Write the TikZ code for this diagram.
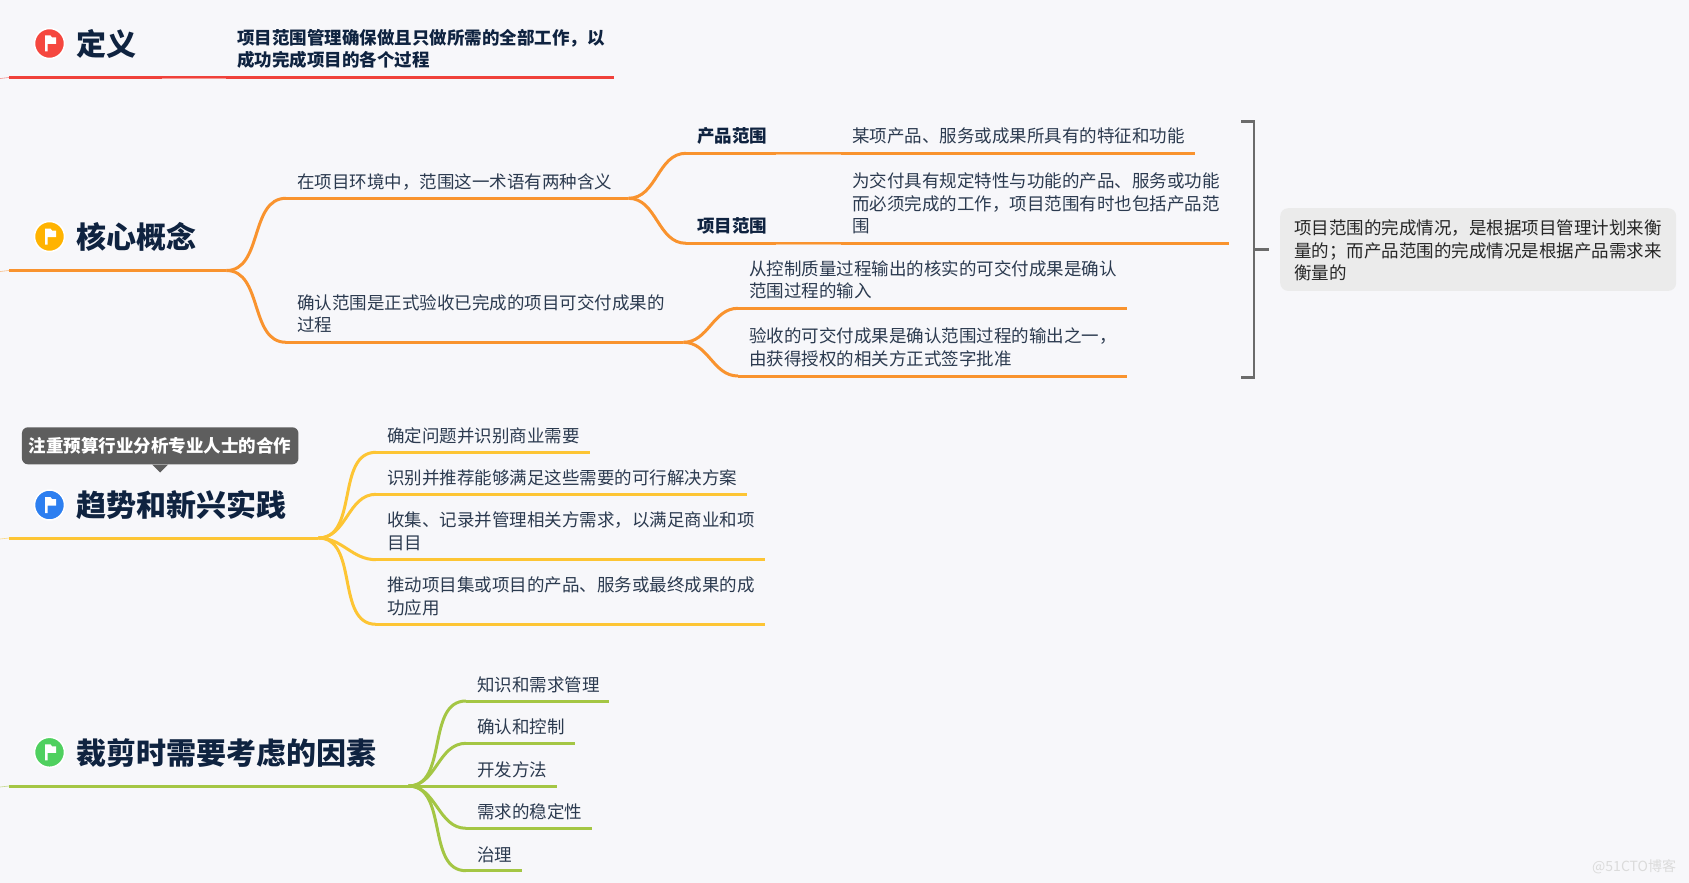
\documentclass[tikz,border=0pt]{standalone}
\usepackage{fontspec}
\setmainfont{Noto Sans CJK SC}
\definecolor{paper}{HTML}{F7F7FA}
\definecolor{ink}{HTML}{0F2340}
\definecolor{bodyink}{HTML}{2B3A4F}
\definecolor{redline}{HTML}{F0413A}
\definecolor{orangeline}{HTML}{F9932E}
\definecolor{yellowline}{HTML}{FDC534}
\definecolor{greenline}{HTML}{A4C644}
\definecolor{redflag}{HTML}{F5473F}
\definecolor{yellowflag}{HTML}{FFB300}
\definecolor{blueflag}{HTML}{2D7FF0}
\definecolor{greenflag}{HTML}{4FD05F}
\tikzset{
  topic/.style={anchor=south west, inner sep=0pt, align=left, text depth=21.5pt, text=ink,
    font=\fontsize{30}{34}\selectfont\bfseries, execute at begin node={\hspace*{67pt}}},
  leaf/.style={anchor=south west, inner xsep=11pt, inner ysep=0pt, align=left, text depth=10pt,
    text=bodyink, font=\fontsize{17.5}{22.5}\selectfont},
  twolines/.style={text depth=33pt},
  threelines/.style={text depth=55.5pt},
  boldleaf/.style={leaf, text=ink, font=\fontsize{17.5}{22.5}\selectfont\bfseries},
  icon/.style={circle, fill=#1, draw=white, line width=1.5pt, minimum size=30pt, inner sep=0pt},
  branch/.style={line width=3pt, color=#1},
  seam/.style={line width=1.2pt, color=white, opacity=.45},
  tail/.style={line width=.6pt, color=#1, opacity=.6},
  bracket/.style={line width=2.5pt, color=black!58},
  flag/.pic={\fill[white] (-4.5,-8) -- (1,-8) -- (2.5,-6) -- (6.5,-6) -- (6.5,.5) -- (-2,.5) -- (-2,8) -- (-4.5,8) -- cycle;}
}
\begin{document}
\begin{tikzpicture}[x=1pt, y=-1pt]
  \fill[paper] (0,0) rectangle (1689,883);
  \useasboundingbox (0,0) rectangle (1689,883);
  %nodes
  \node[icon=redflag] at (49.5,43.5) (deficon) {};
  \node[topic, text width=217pt] at (9,77.5) (defroot) {定义};
  \node[boldleaf, twolines, text width=366pt] at (226,77.5) (defdesc) {项目范围管理确保做且只做所需的全部工作，以\\成功完成项目的各个过程};

  \node[icon=yellowflag] at (49.5,236.5) (coreicon) {};
  \node[topic, text width=217pt] at (9,270.5) (coreroot) {核心概念};
  \node[leaf, text width=320pt] at (286,198.3) (meaning) {在项目环境中，范围这一术语有两种含义};
  \node[leaf, twolines, text width=375pt] at (286,342.3) (confirm) {确认范围是正式验收已完成的项目可交付成果的\\过程};
  \node[boldleaf, text depth=11pt, text width=133pt] at (686,153.3) (product) {产品范围};
  \node[leaf, text depth=11pt, text width=331.5pt] at (841,153.3) (productdesc) {某项产品、服务或成果所具有的特征和功能};
  \node[boldleaf, text depth=11pt, text width=133pt] at (686,243.3) (project) {项目范围};
  \node[leaf, threelines, text width=366pt] at (841,243.3) (projectdesc) {为交付具有规定特性与功能的产品、服务或功能\\而必须完成的工作，项目范围有时也包括产品范\\围};
  \node[leaf, twolines, text width=367pt] at (738,308.3) (input) {从控制质量过程输出的核实的可交付成果是确认\\范围过程的输入};
  \node[leaf, twolines, text width=367pt] at (738,376) (output) {验收的可交付成果是确认范围过程的输出之一，\\由获得授权的相关方正式签字批准};
  \node[anchor=north west, fill=black!8, rounded corners=8pt, inner xsep=14pt, inner ysep=0pt, text height=26.6pt, text depth=56.1pt,
    text width=368pt, align=left, text=black!85, font=\fontsize{17.5}{22.5}\selectfont] at (1280,208) (note)
    {项目范围的完成情况，是根据项目管理计划来衡\\量的；而产品范围的完成情况是根据产品需求来\\衡量的};
  \coordinate (bracketmid) at (1254,249.7);

  \node[fill=black!63, rounded corners=6pt, minimum width=276.5pt, inner sep=0pt, text height=25.3pt, text depth=11.7pt, text=white,
    font=\fontsize{17.5}{22.5}\selectfont\bfseries] at (160.2,445.8) (tag) {注重预算行业分析专业人士的合作};
  \node[icon=blueflag] at (49.5,505) (trendicon) {};
  \node[topic, text width=309pt] at (9,538) (trendroot) {趋势和新兴实践};
  \node[leaf, text width=192pt] at (376,452.3) (need) {确定问题并识别商业需要};
  \node[leaf, text width=349pt] at (376,494.3) (solution) {识别并推荐能够满足这些需要的可行解决方案};
  \node[leaf, twolines, text width=367pt] at (376,559.7) (collect) {收集、记录并管理相关方需求，以满足商业和项\\目目};
  \node[leaf, text depth=32.5pt, text width=367pt] at (376,624.3) (apply) {推动项目集或项目的产品、服务或最终成果的成\\功应用};

  \node[icon=greenflag] at (49.5,752.3) (tailoricon) {};
  \node[topic, text width=399pt] at (9,786) (tailorroot) {裁剪时需要考虑的因素};
  \node[leaf, text depth=9.5pt, text width=121pt] at (466,701) (knowledge) {知识和需求管理};
  \node[leaf, text width=87pt] at (466,743.3) (control) {确认和控制};
  \node[leaf, text depth=9.5pt, text width=69pt] at (466,786) (method) {开发方法};
  \node[leaf, text depth=9.5pt, text width=104pt] at (466,828.3) (stability) {需求的稳定性};
  \node[leaf, text depth=9.5pt, text width=34pt] at (466,870.7) (govern) {治理};

  \node[anchor=west, inner sep=0pt, text=black!14, font=\fontsize{14}{16}\selectfont] at (1592,866.7) (mark) {@51CTO博客};

  \pic at (deficon) {flag};
  \pic at (coreicon) {flag};
  \pic at (trendicon) {flag};
  \pic at (tailoricon) {flag};
  \fill[black!63] ([xshift=-8pt]tag.south) -- ([xshift=8pt]tag.south) -- ([yshift=-8pt]tag.south) -- cycle;

  %connectors
  \draw[tail=redline] ([shift={(-9,1)}]defroot.south west) -- (defroot.south west);
  \draw[tail=orangeline] ([shift={(-9,1)}]coreroot.south west) -- (coreroot.south west);
  \draw[tail=yellowline] ([shift={(-9,1)}]trendroot.south west) -- (trendroot.south west);
  \draw[tail=greenline] ([shift={(-9,1)}]tailorroot.south west) -- (tailorroot.south west);

  \path[branch=redline]
    (defroot.south west) edge (defdesc.south east);
  \path[branch=orangeline]
    (coreroot.south west) edge (coreroot.south east)
    (coreroot.south east) edge[out=0, in=180] (meaning.south west)
    (coreroot.south east) edge[out=0, in=180] (confirm.south west)
    (meaning.south west) edge (meaning.south east)
    (confirm.south west) edge (confirm.south east)
    (meaning.south east) edge[out=0, in=180] (product.south west)
    (meaning.south east) edge[out=0, in=180] (project.south west)
    (product.south west) edge (productdesc.south east)
    (project.south west) edge (projectdesc.south east)
    (confirm.south east) edge[out=0, in=180] (input.south west)
    (confirm.south east) edge[out=0, in=180] (output.south west)
    (input.south west) edge (input.south east)
    (output.south west) edge (output.south east);
  \path[branch=yellowline]
    (trendroot.south west) edge (trendroot.south east)
    (trendroot.south east) edge[out=0, in=180] (need.south west)
    (trendroot.south east) edge[out=0, in=180] (solution.south west)
    (trendroot.south east) edge[out=0, in=180] (collect.south west)
    (trendroot.south east) edge[out=0, in=180] (apply.south west)
    (need.south west) edge (need.south east)
    (solution.south west) edge (solution.south east)
    (collect.south west) edge (collect.south east)
    (apply.south west) edge (apply.south east);
  \path[branch=greenline]
    (tailorroot.south west) edge (tailorroot.south east)
    (tailorroot.south east) edge[out=0, in=180] (knowledge.south west)
    (tailorroot.south east) edge[out=0, in=180] (control.south west)
    (tailorroot.south east) edge (method.south west)
    (tailorroot.south east) edge[out=0, in=180] (stability.south west)
    (tailorroot.south east) edge[out=0, in=180] (govern.south west)
    (knowledge.south west) edge (knowledge.south east)
    (control.south west) edge (control.south east)
    (method.south west) edge (method.south east)
    (stability.south west) edge (stability.south east)
    (govern.south west) edge (govern.south east);

  \draw[seam] ([shift={(-64,.8)}]defroot.south east) -- ([shift={(0,.8)}]defroot.south east);
  \draw[seam] ([shift={(-65,.8)}]product.south east) -- ([shift={(0,.8)}]product.south east);
  \draw[seam] ([shift={(-65,.8)}]project.south east) -- ([shift={(0,.8)}]project.south east);

  \draw[bracket] ([shift={(-13,-128)}]bracketmid) -- ([shift={(0,-128)}]bracketmid) -- ([shift={(0,127.6)}]bracketmid) -- ([shift={(-13,127.6)}]bracketmid);
  \draw[bracket, shorten >=11pt] (bracketmid) -- (note.west |- bracketmid);
\end{tikzpicture}
\end{document}
